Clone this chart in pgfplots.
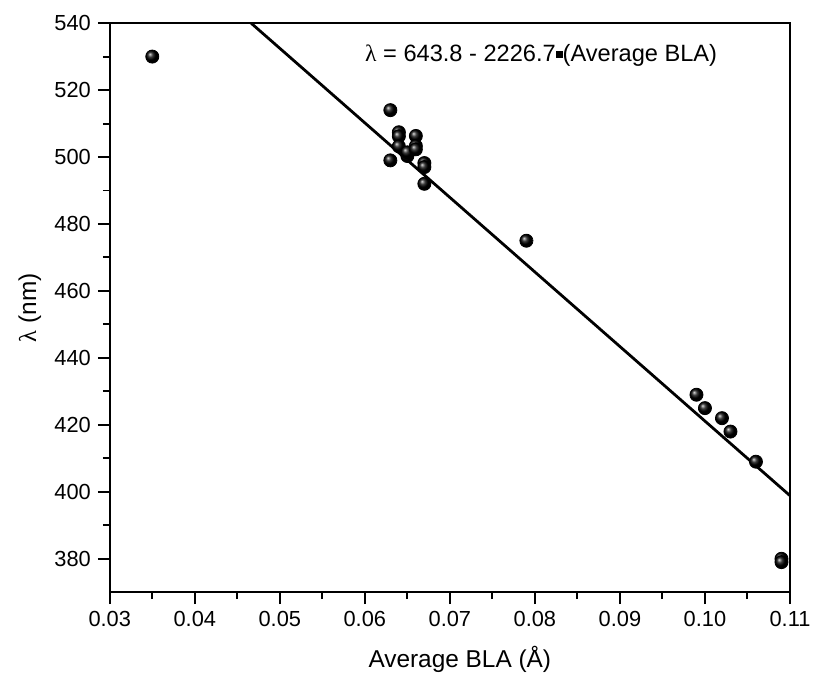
\documentclass[border=0pt]{standalone}
\usepackage{fontspec}
\setmainfont{Liberation Sans}
\newfontfamily\serifgr{Liberation Serif}
\usepackage{pgfplots}
\pgfplotsset{compat=1.18}
\begin{document}
\begin{tikzpicture}
\begin{axis}[
  scale only axis,
  width=343pt, height=287pt,
  xmin=0.03, xmax=0.11, ymin=370, ymax=540,
  xtick={0.03,0.04,...,0.11},
  ytick={380,400,...,540},
  minor x tick num=1, minor y tick num=1,
  tick align=outside,
  xtick pos=bottom, ytick pos=left,
  major tick length=6pt, minor tick length=3.5pt,
  every tick/.style={black, line width=1pt},
  axis line style={line width=1.2pt},
  /pgf/number format/assume math mode=true,
  xticklabel style={/pgf/number format/.cd, fixed, fixed zerofill, precision=2},
  scaled x ticks=false,
  tick label style={font=\fontsize{11}{13}\selectfont},
  xlabel={Average BLA (Å)},
  ylabel={{\serifgr λ} (nm)},
  label style={font=\fontsize{12.3}{14}\selectfont},
  xlabel style={at={(axis description cs:0.5146,-0.1185)}, anchor=center},
  ylabel style={at={(axis description cs:-0.1176,0.5)}, anchor=center, rotate=0},
  clip=true,
]
\addplot[black, line width=1.4pt] coordinates {(0.0465,540.26) (0.11,398.86)};
\addplot[only marks, mark=ball, ball color=black, mark size=3.3pt] coordinates {
(0.035,530) (0.063,514) (0.063,499) (0.064,507.4) (0.064,506.2) (0.064,503.2)
(0.065,500.3) (0.065,501.4) (0.066,506.3) (0.066,503.3) (0.066,502.3)
(0.067,498.2) (0.067,497) (0.067,492) (0.079,475)
(0.099,429) (0.100,425) (0.102,422) (0.103,418) (0.106,409) (0.109,380) (0.109,379)
};
\node[anchor=west, font=\fontsize{11.9}{14}\selectfont, inner sep=0pt] at (axis cs:0.0600,530.3)
  {{\serifgr λ} = 643.8 - 2226.7\raisebox{0.3ex}{\rule{3.5pt}{3.5pt}}(Average BLA)};
\end{axis}
\path (current axis.south west) ++(-55.35pt,-44pt) coordinate (bbsw);
\path (current axis.north east) ++(10pt,11.65pt) coordinate (bbne);
\path (bbsw) rectangle (bbne);
\end{tikzpicture}
\end{document}
